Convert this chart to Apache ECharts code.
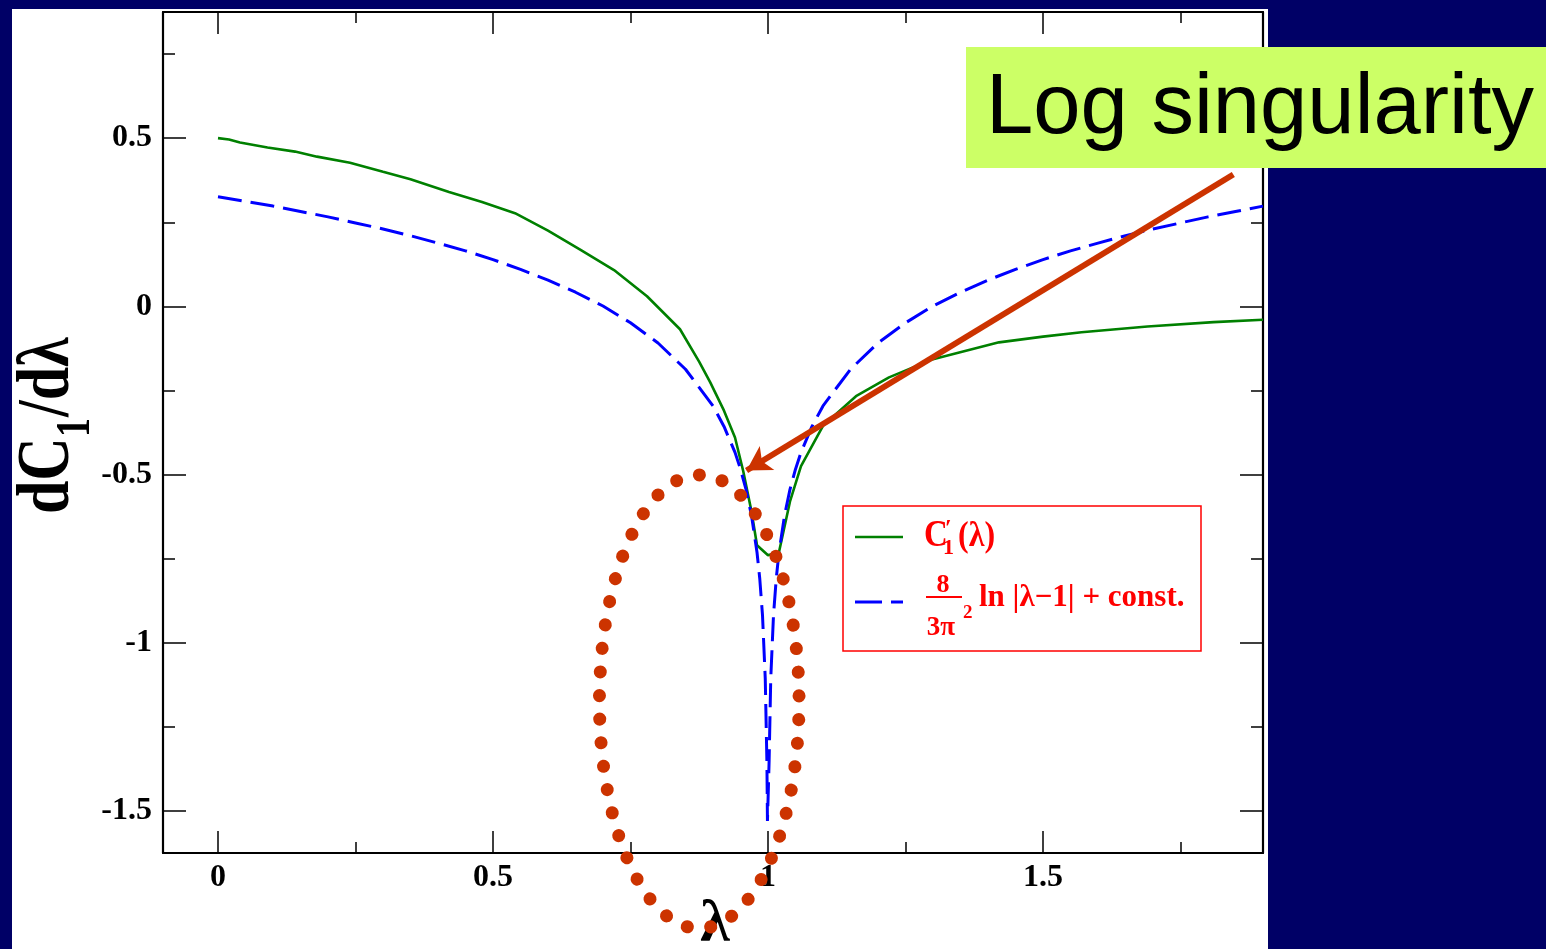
<!DOCTYPE html>
<html>
<head>
<meta charset="utf-8">
<script src="https://cdn.jsdelivr.net/npm/echarts@6/dist/echarts.min.js"></script>
<style>
  html, body { margin: 0; padding: 0; background: #000066; }
  #chart { width: 1546px; height: 949px; }
</style>
</head>
<body>
<div id="chart"></div>
<script>
// ---- data ----
const lambdaGreen = [0, 0.02, 0.04, 0.09, 0.14, 0.18, 0.24, 0.3, 0.35, 0.42, 0.48, 0.54, 0.6, 0.66, 0.72, 0.78,
  0.84, 0.875, 0.895, 0.92, 0.94, 0.955, 0.97, 0.98, 1.0, 1.02, 1.04, 1.06, 1.1, 1.16, 1.22, 1.3, 1.42, 1.5, 1.57, 1.69, 1.81, 1.9];
const greenVals = [0.50, 0.496, 0.487, 0.472, 0.46, 0.445, 0.427, 0.40, 0.378, 0.34, 0.31, 0.277, 0.225, 0.167, 0.108, 0.03,
  -0.068, -0.165, -0.226, -0.31, -0.39, -0.49, -0.61, -0.71, -0.74, -0.73, -0.58, -0.475, -0.355, -0.267, -0.211, -0.157, -0.107, -0.09, -0.077, -0.06, -0.047, -0.04];

const lambdaBlue = [0, 0.05, 0.1, 0.15, 0.2, 0.25, 0.3, 0.35, 0.4, 0.45, 0.5, 0.55, 0.6, 0.65, 0.7, 0.75, 0.8, 0.85, 0.9,
  0.92, 0.94, 0.95, 0.96, 0.97, 0.98, 0.985, 0.99, 0.995, 0.998, 0.999,
  1.001, 1.002, 1.005, 1.01, 1.015, 1.02, 1.03, 1.04, 1.05, 1.06, 1.08,
  1.1, 1.15, 1.2, 1.25, 1.3, 1.35, 1.4, 1.45, 1.5, 1.55, 1.6, 1.65, 1.7, 1.75, 1.8, 1.85, 1.9];
const blueVals = [0.326, 0.312, 0.298, 0.282, 0.266, 0.248, 0.230, 0.210, 0.188, 0.165, 0.139, 0.110, 0.078, 0.042, 0.001, -0.049, -0.109, -0.187, -0.296,
  -0.357, -0.434, -0.484, -0.544, -0.622, -0.731, -0.809, -0.918, -1.106, -1.353, -1.53,
  -1.53, -1.353, -1.106, -0.918, -0.809, -0.731, -0.622, -0.544, -0.484, -0.434, -0.357,
  -0.296, -0.187, -0.109, -0.049, 0.001, 0.042, 0.078, 0.110, 0.139, 0.165, 0.188, 0.210, 0.230, 0.248, 0.266, 0.282, 0.298];

const xMajor = [0, 0.5, 1, 1.5];
const xMinor = [0.25, 0.75, 1.25, 1.75];
const yMajor = [-1.5, -1, -0.5, 0, 0.5];
const yMinor = [-1.25, -0.75, -0.25, 0.25, 0.75];
const xRange = [-0.1, 1.9];
const yRange = [-1.625, 0.875];

// annotation anchors (data coordinates)
const arrowStart = [1.846, 0.392];
const arrowEnd = [0.961, -0.488];
const ovalCenter = [0.875, -1.175];
const ovalRadii = [0.1815, 0.674];
const ovalDots = 45;

const labelFont = { fontFamily: 'Liberation Serif', fontWeight: 'bold', fontSize: 32, color: '#000' };
const RED = '#ff0000';
const ORANGE = '#cc3300';

function mkAxis(kind, pos, ticks, len, withLabels, withLine) {
  return {
    type: 'value', position: pos,
    min: kind === 'x' ? xRange[0] : yRange[0],
    max: kind === 'x' ? xRange[1] : yRange[1],
    splitLine: { show: false },
    axisLine: { show: withLine, onZero: false, lineStyle: { color: '#000', width: 2.2 } },
    axisTick: { show: true, inside: true, length: len, customValues: ticks, lineStyle: { color: '#000', width: 1.5 } },
    axisLabel: withLabels
      ? Object.assign({ show: true, customValues: ticks, margin: kind === 'x' ? 9 : 11 }, labelFont)
      : { show: false }
  };
}

const chart = echarts.init(document.getElementById('chart'));
chart.setOption({
  animation: false,
  backgroundColor: '#ffffff',
  grid: { left: 163, top: 12, width: 1100, height: 841 },
  xAxis: [
    mkAxis('x', 'bottom', xMajor, 22, true, true),
    mkAxis('x', 'bottom', xMinor, 11, false, false),
    mkAxis('x', 'top', xMajor, 22, false, true),
    mkAxis('x', 'top', xMinor, 11, false, false)
  ],
  yAxis: [
    mkAxis('y', 'left', yMajor, 23, true, true),
    mkAxis('y', 'left', yMinor, 12, false, false),
    mkAxis('y', 'right', yMajor, 23, false, true),
    mkAxis('y', 'right', yMinor, 12, false, false)
  ],
  legend: { show: false },
  series: [
    {
      name: "C1'(λ)", type: 'line', xAxisIndex: 0, yAxisIndex: 0,
      data: lambdaGreen.map((x, i) => [x, greenVals[i]]),
      showSymbol: false, smooth: false,
      lineStyle: { color: '#008000', width: 2.6 }, z: 3
    },
    {
      name: '8/(3π²) ln|λ−1| + const.', type: 'line', xAxisIndex: 0, yAxisIndex: 0,
      data: lambdaBlue.map((x, i) => [x, blueVals[i]]),
      showSymbol: false, smooth: false,
      lineStyle: { color: '#0000ff', width: 3, type: [24, 9] }, z: 4,
      markLine: {
        silent: true, animation: false,
        symbol: ['none', 'arrow'], symbolSize: [21, 24],
        label: { show: false },
        lineStyle: { color: ORANGE, width: 6, type: 'solid' },
        emphasis: { disabled: true },
        data: [[{ coord: arrowStart }, { coord: arrowEnd }]],
        z: 10
      }
    }
  ]
});

const c = chart.convertToPixel({ xAxisIndex: 0, yAxisIndex: 0 }, ovalCenter);
const c2 = chart.convertToPixel({ xAxisIndex: 0, yAxisIndex: 0 }, [ovalCenter[0] + ovalRadii[0], ovalCenter[1] - ovalRadii[1]]);
const rx = c2[0] - c[0], ry = c2[1] - c[1];
// dot spacing so that the dots close up evenly, with one dot at the top of the oval
const perim = Math.PI * (3 * (rx + ry) - Math.sqrt((3 * rx + ry) * (rx + 3 * ry)));
const period = perim / ovalDots;
const quarter = perim / 4;
const dashOffset = (period - (quarter % period)) % period;

const serif = 'Liberation Serif';
function ytxt(text, x, y, size) {
  return {
    type: 'text', z: 20, x: x, y: y, rotation: Math.PI / 2, scaleY: 1.25, silent: true,
    style: { text: text, fontSize: size, fontFamily: serif, fontWeight: 'bold', fill: '#000', align: 'left', verticalAlign: 'middle' }
  };
}
const graphics = [
  // navy page surround
  { type: 'rect', z: 1, shape: { x: 0, y: 0, width: 12, height: 949 }, style: { fill: '#000066' }, silent: true },
  { type: 'rect', z: 1, shape: { x: 0, y: 0, width: 1546, height: 9 }, style: { fill: '#000066' }, silent: true },
  { type: 'rect', z: 1, shape: { x: 1268, y: 0, width: 278, height: 949 }, style: { fill: '#000066' }, silent: true },
  // y-axis title  dC_1/dλ  (rotated, reading upward)
  ytxt('dC', 49, 514, 60),
  ytxt('1', 77, 437, 38),
  ytxt('/dλ', 49, 417, 60),
  // x-axis title
  {
    type: 'text', z: 20, x: 715, y: 925, silent: true,
    style: { text: 'λ', fontSize: 60, fontFamily: serif, fontWeight: 'bold', fill: '#000', align: 'center', verticalAlign: 'middle' }
  },
  // legend box
  { type: 'rect', z: 30, shape: { x: 843, y: 506, width: 358, height: 145 }, style: { fill: null, stroke: RED, lineWidth: 1.5 }, silent: true },
  { type: 'line', z: 30, shape: { x1: 855, y1: 537, x2: 903, y2: 537 }, style: { stroke: '#008000', lineWidth: 2.6 }, silent: true },
  { type: 'line', z: 30, shape: { x1: 855, y1: 602, x2: 903, y2: 602 }, style: { stroke: '#0000ff', lineWidth: 3, lineDash: [27, 9] }, silent: true },
  { type: 'text', z: 30, x: 924, y: 536, silent: true, scaleY: 1.15, style: { text: 'C', fontSize: 33, fontFamily: serif, fontWeight: 'bold', fill: RED, align: 'left', verticalAlign: 'middle' } },
  { type: 'text', z: 30, x: 945, y: 529, silent: true, style: { text: '\u2032', fontSize: 24, fontFamily: serif, fontWeight: 'bold', fill: RED, align: 'left', verticalAlign: 'middle' } },
  { type: 'text', z: 30, x: 943, y: 548, silent: true, style: { text: '1', fontSize: 22, fontFamily: serif, fontWeight: 'bold', fill: RED, align: 'left', verticalAlign: 'middle' } },
  { type: 'text', z: 30, x: 958, y: 537, silent: true, scaleY: 1.1, style: { text: '(λ)', fontSize: 32, fontFamily: serif, fontWeight: 'bold', fill: RED, align: 'left', verticalAlign: 'middle' } },
  { type: 'text', z: 30, x: 943, y: 585, silent: true, style: { text: '8', fontSize: 26, fontFamily: serif, fontWeight: 'bold', fill: RED, align: 'center', verticalAlign: 'middle' } },
  { type: 'line', z: 30, shape: { x1: 926, y1: 597, x2: 962, y2: 597 }, style: { stroke: RED, lineWidth: 2 }, silent: true },
  { type: 'text', z: 30, x: 941, y: 628, silent: true, style: { text: '3π', fontSize: 27, fontFamily: serif, fontWeight: 'bold', fill: RED, align: 'center', verticalAlign: 'middle' } },
  { type: 'text', z: 30, x: 963, y: 613, silent: true, style: { text: '2', fontSize: 19, fontFamily: serif, fontWeight: 'bold', fill: RED, align: 'left', verticalAlign: 'middle' } },
  { type: 'text', z: 30, x: 979, y: 598, silent: true, style: { text: 'ln |λ−1| + const.', fontSize: 31, fontFamily: serif, fontWeight: 'bold', fill: RED, align: 'left', verticalAlign: 'middle' } },
  // dotted oval
  {
    type: 'ellipse', z: 60, silent: true,
    shape: { cx: c[0], cy: c[1], rx: rx, ry: ry },
    style: { fill: null, stroke: ORANGE, lineWidth: 13, lineDash: [0.1, period - 0.1], lineDashOffset: dashOffset, lineCap: 'round' }
  },
  // call-out box
  { type: 'rect', z: 100, shape: { x: 966, y: 47, width: 580, height: 121 }, style: { fill: '#ccff66' }, silent: true },
  {
    type: 'text', z: 101, x: 986, y: 110, silent: true,
    style: { text: 'Log singularity', fontSize: 85, fontFamily: 'Liberation Sans', fill: '#000', align: 'left', verticalAlign: 'middle' }
  }
];
chart.setOption({ graphic: { elements: graphics } });
</script>
</body>
</html>
